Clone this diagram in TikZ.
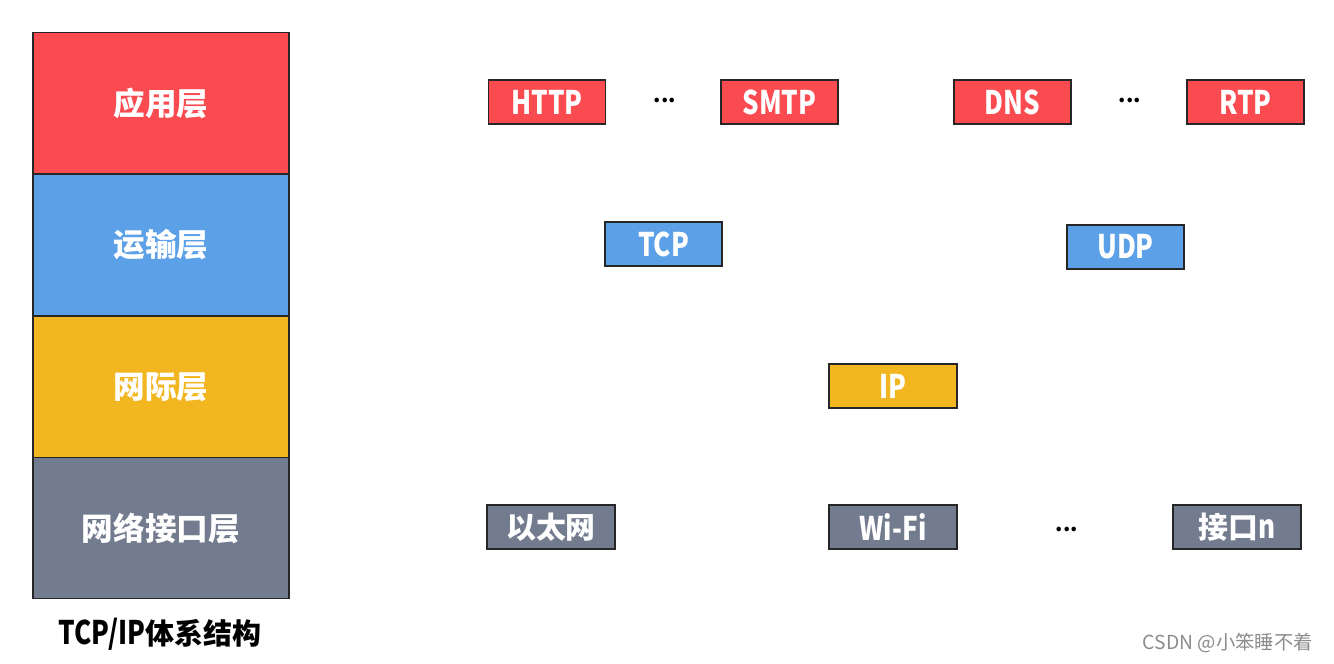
\documentclass[tikz,border=0pt]{standalone}
\usepackage{fontspec}
\setmainfont{Noto Sans CJK SC}
\newfontfamily\narrowfont{Noto Sans CJK SC}[FakeStretch=0.8]
\definecolor{appred}{HTML}{F94B50}
\definecolor{trnblue}{HTML}{5CA0E8}
\definecolor{netyellow}{HTML}{F2B720}
\definecolor{ifgray}{HTML}{737B8E}
\tikzset{
  layer/.style={draw=black!85, line width=0.8pt, minimum width=5.12cm, minimum height=2.83cm,
    inner sep=0pt, text=white, font=\fontsize{18}{21}\selectfont\bfseries},
  proto/.style={draw=black!85, line width=0.8pt, minimum width=2.34cm, minimum height=0.88cm,
    inner sep=0pt, text=white, font=\narrowfont\fontsize{18.5}{21}\selectfont\bfseries},
  wide/.style={proto, minimum width=2.56cm},
  cjkproto/.style={wide, font=\fontsize{17}{20}\selectfont\bfseries},
  dots/.style={font=\fontsize{12}{14}\selectfont\bfseries}
}
\begin{document}
\begin{tikzpicture}[x=0.02cm,y=-0.02cm]
  \useasboundingbox (0,0) rectangle (1334,663);
  % TCP/IP stack
  \node[layer, fill=appred]    (app) at (161,103) {应用层};
  \node[layer, fill=trnblue]   (trn) at (161,245) {运输层};
  \node[layer, fill=netyellow] (net) at (161,387) {网际层};
  \node[layer, fill=ifgray]    (lnk) at (161,528) {网络接口层};
  \node[font=\fontsize{16.5}{19}\selectfont\bfseries] (title) at (160,634) {{\narrowfont\fontsize{18.5}{19}\selectfont TCP/IP}体系结构};
  % application layer
  \node[proto, fill=appred] (http) at (547,102) {HTTP};
  \node[dots] (adots1) at (665,100) {...};
  \node[proto, fill=appred] (smtp) at (779.5,102) {SMTP};
  \node[proto, fill=appred] (dns) at (1012.5,102) {DNS};
  \node[dots] (adots2) at (1130,100) {...};
  \node[proto, fill=appred] (rtp) at (1245.5,102) {RTP};
  % transport layer
  \node[proto, fill=trnblue] (tcp) at (663.5,244) {TCP};
  \node[proto, fill=trnblue] (udp) at (1125.5,247) {UDP};
  % internet layer
  \node[wide, fill=netyellow] (ip) at (893,386) {IP};
  % link layer
  \node[cjkproto, fill=ifgray] (eth) at (551,527) {以太网};
  \node[wide, fill=ifgray] (wifi) at (893,527) {Wi-Fi};
  \node[dots] (ldots) at (1067,529) {...};
  \node[cjkproto, fill=ifgray] (ifn) at (1237,527) {接口{\narrowfont\fontsize{18.5}{21}\selectfont n}};
  % watermark
  \node[text=black!45, font=\fontsize{11}{13}\selectfont, anchor=east] (mark) at (1319,643) {CSDN @小笨睡不着};
\end{tikzpicture}
\end{document}
